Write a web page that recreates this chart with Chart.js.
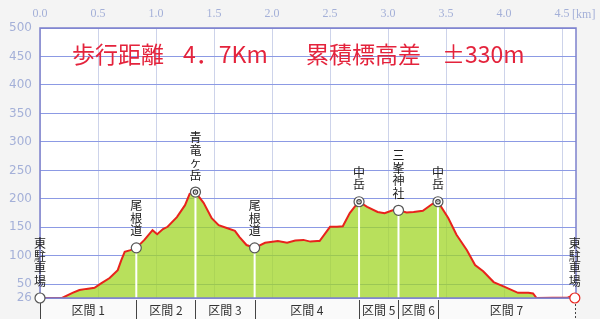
<!DOCTYPE html>
<html>
<head>
<meta charset="utf-8">
<script src="https://cdn.jsdelivr.net/npm/chart.js@4/dist/chart.umd.min.js"></script>
<style>
  html, body { margin: 0; padding: 0; background: #f4f4f4; }
  #wrap { width: 600px; height: 319px; }
</style>
</head>
<body>
<div id="wrap"><canvas id="profChart"></canvas></div>
<script>
// elevation profile (km / m)
const distKm = [0, 0.19, 0.28, 0.34, 0.40, 0.47, 0.53, 0.60, 0.67, 0.70, 0.73, 0.78, 0.83, 0.90, 0.97, 1.01, 1.06, 1.10, 1.18, 1.25, 1.29, 1.34,
  1.41, 1.48, 1.54, 1.61, 1.68, 1.72, 1.78, 1.85, 1.94, 2.05, 2.13, 2.20, 2.27, 2.33, 2.39, 2.41, 2.50, 2.56, 2.61, 2.67, 2.72, 2.75,
  2.82, 2.91, 2.97, 3.04, 3.09, 3.16, 3.22, 3.30, 3.38, 3.43, 3.52, 3.59, 3.68, 3.75, 3.82, 3.91, 4.01, 4.12, 4.21, 4.25, 4.28, 4.55, 4.58, 4.61];
const elevM = [26, 26, 35, 40, 42, 44, 52, 61, 75, 92, 107, 110, 114, 128, 145, 138, 147, 151, 168, 189, 209, 212,
  193, 166, 154, 149, 144, 133, 119, 114, 123, 126, 123, 127, 128, 125, 126, 126, 151, 151, 152, 175, 188, 195,
  186, 177, 175, 180, 180, 176, 177, 179, 191, 195, 166, 137, 110, 84, 73, 54, 45, 35, 35, 34, 26, 27, 29, 26];

// waypoints
const wpNames = ['東駐車場', '尾根道', '青竜ヶ岳', '尾根道', '中岳', '三峯神社', '中岳', '東駐車場'];
const wpKm = [0, 0.83, 1.34, 1.85, 2.75, 3.09, 3.43, 4.61];
const wpElev = [26, 114, 212, 114, 195, 180, 195, 26];
const wpPeak = [false, false, true, false, true, false, true, false];
const sections = ['区間 1', '区間 2', '区間 3', '区間 4', '区間 5', '区間 6', '区間 7'];

const xTicks = [0, 0.5, 1.0, 1.5, 2.0, 2.5, 3.0, 3.5, 4.0, 4.5];
const yTicks = [26, 50, 100, 150, 200, 250, 300, 350, 400, 450, 500];

const jp = '"Noto Sans CJK JP", sans-serif';

const extras = {
  id: 'extras',
  beforeDraw(chart) {
    const { ctx, chartArea: a } = chart;
    ctx.save();
    ctx.fillStyle = '#f4f4f4';
    ctx.fillRect(0, 0, chart.width, chart.height);
    ctx.fillStyle = '#ffffff';
    ctx.fillRect(a.left, a.top, a.right - a.left, a.bottom - a.top);
    ctx.restore();
  },
  afterDatasetDraw(chart, args) {
    if (args.index !== 0) return;
    const { ctx, chartArea: a, scales: { x, y } } = chart;
    ctx.save();
    ctx.strokeStyle = '#ffffff';
    ctx.lineWidth = 2;
    wpKm.forEach((k, i) => {
      if (i === 0 || i === wpKm.length - 1) return;
      const px = x.getPixelForValue(k);
      ctx.beginPath();
      ctx.moveTo(px, y.getPixelForValue(wpElev[i]));
      ctx.lineTo(px, a.bottom);
      ctx.stroke();
    });
    ctx.restore();
  },
  afterDraw(chart) {
    const { ctx, chartArea: a, scales: { x, y } } = chart;
    ctx.save();
    // frame
    ctx.strokeStyle = '#7c80cc';
    ctx.lineWidth = 1.5;
    ctx.strokeRect(a.left, a.top, a.right - a.left, a.bottom - a.top);

    // headline
    ctx.fillStyle = '#e4233c';
    ctx.font = '23px ' + jp;
    ctx.textBaseline = 'middle';
    ctx.fillText('歩行距離', 72, 54);
    ctx.fillText('4．7Km', 183, 54);
    ctx.fillText('累積標高差', 306, 54);
    ctx.fillText('±330m', 442, 54);

    // [km] unit
    ctx.fillStyle = '#a4b0d8';
    ctx.font = '12px "Liberation Serif", serif';
    ctx.textAlign = 'left';
    ctx.fillText('[km]', x.getPixelForValue(4.5) + 10, 15);

    // waypoint names (vertical)
    ctx.fillStyle = '#222';
    ctx.font = '12px ' + jp;
    ctx.textAlign = 'center';
    wpNames.forEach((name, i) => {
      const px = x.getPixelForValue(wpKm[i]);
      const py = y.getPixelForValue(wpElev[i]);
      const chars = Array.from(name);
      chars.forEach((c, j) => {
        ctx.fillText(c, px, py - 17 - (chars.length - 1 - j) * 12.5);
      });
    });

    // section strip
    ctx.fillStyle = '#fafafa';
    ctx.fillRect(a.left, a.bottom + 1, x.getPixelForValue(wpKm[wpKm.length - 1]) - a.left, chart.height - a.bottom);
    ctx.strokeStyle = '#444';
    ctx.lineWidth = 1;
    wpKm.forEach((k, i) => {
      const px = Math.round(x.getPixelForValue(k)) + 0.5;
      if (i === wpKm.length - 1) ctx.setLineDash([2, 2]);
      ctx.beginPath();
      ctx.moveTo(px, a.bottom + 2);
      ctx.lineTo(px, chart.height);
      ctx.stroke();
    });
    ctx.setLineDash([]);
    ctx.fillStyle = '#333';
    ctx.font = '12px ' + jp;
    sections.forEach((s, i) => {
      const mid = (x.getPixelForValue(wpKm[i]) + x.getPixelForValue(wpKm[i + 1])) / 2;
      ctx.fillText(s, mid, a.bottom + 12);
    });

    // waypoint markers on top of the frame
    const pts = chart.getDatasetMeta(1).data;
    ctx.lineWidth = 1.2;
    pts.forEach((p, i) => {
      ctx.beginPath();
      ctx.arc(p.x, p.y, 5, 0, Math.PI * 2);
      ctx.fillStyle = '#fff';
      ctx.fill();
      ctx.strokeStyle = i === pts.length - 1 ? '#e8231c' : '#555';
      ctx.stroke();
    });
    // inner ring for summits
    ctx.strokeStyle = '#444';
    ctx.fillStyle = '#666';
    chart.getDatasetMeta(2).data.forEach(p => {
      ctx.beginPath();
      ctx.arc(p.x, p.y, 2.2, 0, Math.PI * 2);
      ctx.stroke();
      ctx.beginPath();
      ctx.arc(p.x, p.y, 0.8, 0, Math.PI * 2);
      ctx.fill();
    });
    ctx.restore();
  }
};

new Chart(document.getElementById('profChart'), {
  type: 'line',
  data: {
    datasets: [{
      data: distKm.map((k, i) => ({ x: k, y: elevM[i] })),
      borderColor: '#e8231c',
      borderWidth: 2,
      backgroundColor: 'rgba(160,214,38,0.75)',
      fill: 'start',
      pointRadius: 0,
      tension: 0
    }, {
      data: wpKm.map((k, i) => ({ x: k, y: wpElev[i] })),
      showLine: false,
      clip: false,
      pointRadius: 0
    }, {
      data: wpKm.map((k, i) => ({ x: k, y: wpElev[i] })).filter((p, i) => wpPeak[i]),
      showLine: false,
      clip: false,
      pointRadius: 0
    }]
  },
  options: {
    responsive: true,
    maintainAspectRatio: false,
    animation: false,
    layout: { padding: { left: 0, right: 24, top: 0, bottom: 21 } },
    plugins: { legend: { display: false }, tooltip: { enabled: false } },
    scales: {
      x: {
        type: 'linear',
        position: 'top',
        min: 0,
        max: 4.62,
        afterBuildTicks: s => { s.ticks = xTicks.map(v => ({ value: v })); },
        afterFit: s => { s.height = 28; },
        grid: { color: '#cdd3ea', lineWidth: 1, drawTicks: false },
        border: { display: false },
        ticks: {
          color: '#a4b0d8',
          font: { family: '"Liberation Serif", serif', size: 12 },
          padding: 7,
          maxRotation: 0,
          callback: v => v.toFixed(1)
        }
      },
      y: {
        min: 26,
        max: 500,
        afterBuildTicks: s => { s.ticks = yTicks.map(v => ({ value: v })); },
        afterFit: s => { s.width = 40; },
        grid: { color: '#8c9ae4', lineWidth: 1, drawTicks: false },
        border: { display: false },
        ticks: {
          color: '#a4b0d8',
          font: { family: '"DejaVu Sans", sans-serif', size: 12 },
          padding: 8
        }
      }
    }
  },
  plugins: [extras]
});
</script>
</body>
</html>
